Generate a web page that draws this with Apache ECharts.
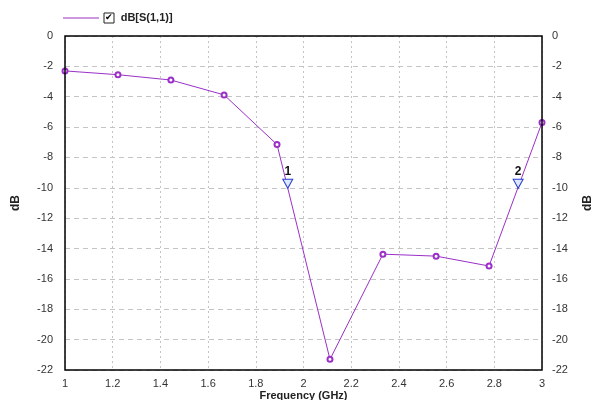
<!DOCTYPE html>
<html>
<head>
<meta charset="utf-8">
<script src="https://cdn.jsdelivr.net/npm/echarts@6/dist/echarts.min.js"></script>
<style>
  html, body { margin: 0; padding: 0; background: #fff; }
  #main { width: 596px; height: 400px; }
</style>
</head>
<body>
<div id="main"></div>
<script>
// frequency points (GHz) and S11 (dB)
const freq = [1.0, 1.222, 1.444, 1.667, 1.889, 2.111, 2.333, 2.556, 2.778, 3.0];
const s11 = [-2.3, -2.55, -2.9, -3.88, -7.15, -21.3, -14.37, -14.5, -15.15, -5.7];
// markers
const markerNames = ["1", "2"];
const markerFreq = [1.934, 2.9];
const markerDb = [-10, -10];

const lineColor = "#9b30c8";
const fontFam = "Arial, 'Liberation Sans', sans-serif";

const chart = echarts.init(document.getElementById("main"));

const yAxisBase = {
  type: "value",
  min: -22,
  max: 0,
  interval: 2,
  name: "dB",
  nameLocation: "middle",
  nameRotate: 90,
  nameTextStyle: { fontWeight: "bold", fontSize: 12, color: "#222", fontFamily: fontFam },
  axisLine: { show: false },
  axisTick: { show: false },
  axisLabel: { color: "#333", fontSize: 11, fontFamily: fontFam }
};

const option = {
  animation: false,
  backgroundColor: "#fff",
  legend: {
    left: 58,
    top: 7,
    itemWidth: 36,
    itemHeight: 10,
    itemGap: 4,
    icon: "path://M0,5L36,5L36,6L0,6Z",
    data: [{ name: "dB[S(1,1)]", itemStyle: { color: lineColor } }],
    formatter: function (name) {
      return "{box|✔}  {t|" + name + "}";
    },
    textStyle: {
      rich: {
        box: {
          borderColor: "#222", borderWidth: 1, width: 10, height: 10,
          align: "center", fontSize: 9, color: "#000", lineHeight: 10
        },
        t: { fontWeight: "bold", fontSize: 11, color: "#222", fontFamily: fontFam }
      }
    }
  },
  grid: { left: 65, right: 54, top: 36, bottom: 30, outerBoundsMode: "none", containLabel: false },
  xAxis: {
    type: "value",
    min: 1,
    max: 3,
    interval: 0.2,
    name: "Frequency (GHz)",
    nameLocation: "middle",
    nameGap: 20,
    nameMoveOverlap: false,
    nameTextStyle: { fontWeight: "bold", fontSize: 11, color: "#222", fontFamily: fontFam },
    axisLine: { show: false },
    axisTick: { show: false },
    axisLabel: {
      color: "#333", fontSize: 11, fontFamily: fontFam, margin: 8,
      formatter: v => String(+v.toFixed(1))
    },
    splitLine: { show: true, lineStyle: { color: "#c4c4c4", type: [2, 3] } }
  },
  yAxis: [
    Object.assign({}, yAxisBase, {
      position: "left",
      nameGap: 43,
      axisLabel: Object.assign({}, yAxisBase.axisLabel, { margin: 12 }),
      splitLine: { show: true, lineStyle: { color: "#c4c4c4", type: [5, 4] } }
    }),
    Object.assign({}, yAxisBase, {
      position: "right",
      nameGap: 40,
      axisLabel: Object.assign({}, yAxisBase.axisLabel, { margin: 10 }),
      splitLine: { show: false }
    })
  ],
  series: [
    {
      name: "dB[S(1,1)]",
      type: "line",
      data: freq.map((f, i) => [f, s11[i]]),
      symbol: "emptyCircle",
      symbolSize: 5,
      color: lineColor,
      lineStyle: { color: lineColor, width: 1 },
      itemStyle: { color: lineColor, borderWidth: 1 },
      markPoint: {
        symbol: "triangle",
        symbolSize: [10, 9],
        symbolRotate: 180,
        symbolOffset: [0, -4],
        itemStyle: { color: "#dfe6ff", borderColor: "#2a3fd0", borderWidth: 1 },
        label: {
          show: true,
          position: "top",
          distance: 1,
          color: "#111",
          fontWeight: "bold",
          fontSize: 12,
          fontFamily: fontFam,
          formatter: p => p.name
        },
        data: markerNames.map((n, i) => ({ name: n, coord: [markerFreq[i], markerDb[i]] }))
      }
    }
  ],
  graphic: [
    {
      type: "rect",
      shape: { x: 65, y: 36, width: 477, height: 334 },
      style: { fill: "none", stroke: "#000", lineWidth: 1.5 },
      silent: true,
      z: 10
    }
  ]
};

chart.setOption(option);
</script>
</body>
</html>
